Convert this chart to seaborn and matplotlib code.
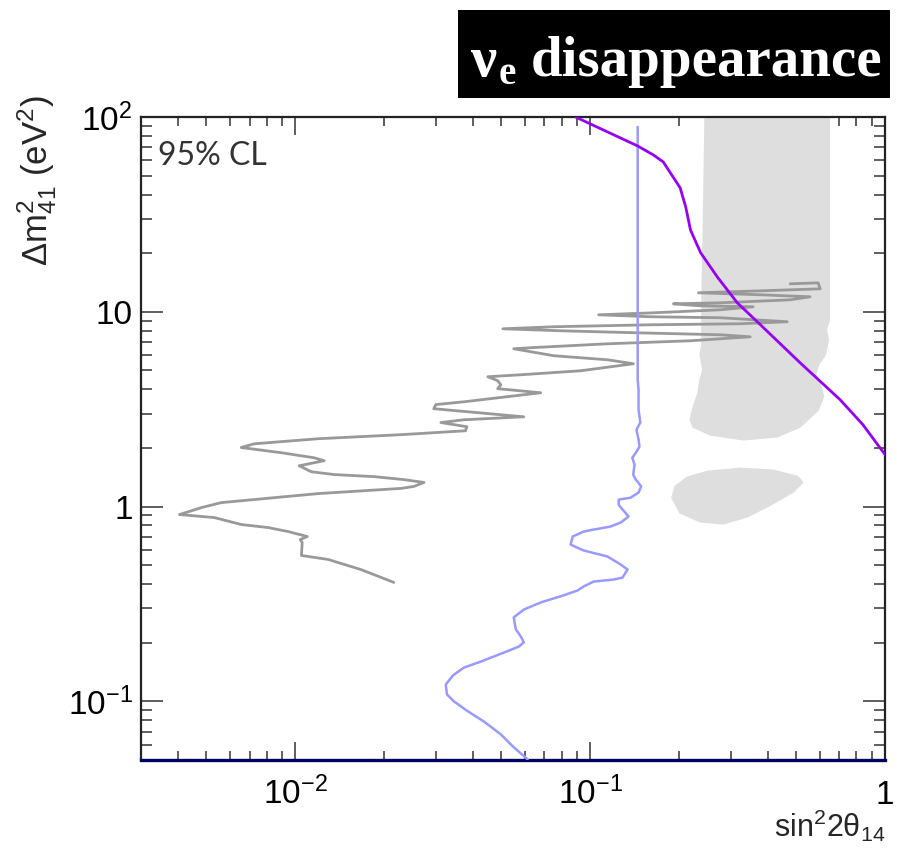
import numpy as np
import matplotlib
matplotlib.use("Agg")
import matplotlib.pyplot as plt
import seaborn as sns
from matplotlib.patches import Rectangle
from matplotlib.ticker import LogLocator, NullFormatter

# ---------------- data ----------------
purple_x = [0.0893, 0.1004, 0.145, 0.164, 0.177, 0.202, 0.211, 0.219, 0.237,
            0.270, 0.3156, 0.378, 0.515, 0.704, 0.842, 1.0]
purple_y = [100, 92, 71, 63.8, 58.8, 43.3, 34.5, 26.3, 20.1,
            15.1, 11.12, 8.58, 5.48, 3.54, 2.63, 1.85]

blue_x = [0.145, 0.145, 0.146, 0.146, 0.148, 0.1436, 0.146, 0.147, 0.1436, 0.139,
          0.1415, 0.140, 0.1427, 0.149, 0.146, 0.137, 0.125, 0.125, 0.135, 0.127,
          0.117, 0.1028, 0.0951, 0.0873, 0.0859, 0.0951, 0.1146, 0.127, 0.134, 0.1288,
          0.120, 0.1028, 0.0951, 0.0907, 0.0813, 0.0680, 0.0596, 0.0551, 0.0560, 0.0582,
          0.0596, 0.0573, 0.0510, 0.0426, 0.0373, 0.0343, 0.0324, 0.0327, 0.0345, 0.0385,
          0.0436, 0.0498, 0.0551, 0.0614]
blue_y = [88.9, 4.48, 3.98, 3.14, 2.70, 2.48, 2.21, 2.03, 1.91, 1.78,
          1.64, 1.46, 1.38, 1.27, 1.18, 1.11, 1.086, 1.02, 0.889, 0.828,
          0.789, 0.762, 0.744, 0.702, 0.638, 0.595, 0.554, 0.504, 0.475, 0.432,
          0.422, 0.412, 0.389, 0.371, 0.350, 0.322, 0.296, 0.270, 0.234, 0.2155,
          0.201, 0.191, 0.178, 0.160, 0.149, 0.136, 0.122, 0.1086, 0.100, 0.0889,
          0.0789, 0.0677, 0.0581, 0.0504]

gray_x = [0.477, 0.593, 0.603, 0.378, 0.233, 0.378, 0.557, 0.477, 0.2765, 0.1917,
          0.2366, 0.357, 0.2765, 0.164, 0.1069, 0.160, 0.2765, 0.466, 0.323, 0.164,
          0.0752, 0.0506, 0.0795, 0.145, 0.2765, 0.349, 0.219, 0.1146, 0.0629, 0.0551,
          0.0752, 0.1146, 0.1403, 0.0929, 0.0582, 0.045, 0.0486, 0.0498, 0.0486, 0.0680,
          0.0373, 0.030, 0.0295, 0.0596, 0.0373, 0.0312, 0.0382, 0.0378, 0.0229, 0.01197,
          0.00726, 0.00656, 0.00897, 0.0116, 0.01254, 0.01032, 0.01133, 0.01355, 0.0185, 0.0234,
          0.02733, 0.0253, 0.0229, 0.01197, 0.00562, 0.00481, 0.00405, 0.00532, 0.00656, 0.0081,
          0.00947, 0.01099, 0.0104, 0.01056, 0.0105, 0.01294, 0.0167, 0.0216]
gray_y = [13.92, 14.08, 13.12, 12.81, 12.52, 12.23, 11.94, 11.52, 11.12, 10.99,
          10.73, 10.61, 10.24, 9.88, 9.65, 9.43, 9.32, 8.89, 8.68, 8.58,
          8.38, 8.18, 7.99, 7.80, 7.62, 7.44, 7.10, 6.85, 6.54, 6.46,
          5.95, 5.67, 5.41, 4.98, 4.75, 4.64, 4.43, 4.22, 4.03, 3.84,
          3.45, 3.34, 3.18, 2.89, 2.79, 2.70, 2.57, 2.45, 2.34, 2.23,
          2.10, 2.01, 1.89, 1.78, 1.72, 1.62, 1.51, 1.46, 1.425, 1.375,
          1.33, 1.27, 1.24, 1.166, 1.048, 0.988, 0.910, 0.878, 0.809, 0.780,
          0.744, 0.702, 0.677, 0.654, 0.561, 0.535, 0.475, 0.408]

band_x = [0.246, 0.646, 0.646, 0.631, 0.641, 0.626, 0.593, 0.580, 0.603, 0.617,
          0.593, 0.515, 0.431, 0.331, 0.256, 0.224, 0.219, 0.224, 0.233, 0.2366,
          0.242, 0.2366, 0.240, 0.240, 0.242]
band_y = [100, 100, 9.10, 8.09, 7.18, 6.02, 5.35, 4.75, 4.22, 3.67,
          3.14, 2.57, 2.29, 2.21, 2.34, 2.57, 2.79, 3.22, 3.84, 4.48,
          5.04, 6.02, 6.77, 11.5, 20.8]

island_x = [0.1946, 0.190, 0.202, 0.2366, 0.283, 0.341, 0.408, 0.489, 0.524, 0.504,
            0.418, 0.323, 0.250, 0.214]
island_y = [1.266, 1.11, 0.932, 0.838, 0.818, 0.889, 1.02, 1.194, 1.33, 1.425,
            1.53, 1.567, 1.51, 1.41]

x_ticks = [0.01, 0.1, 1]
x_tick_labels = [r'$10^{-2}$', r'$10^{-1}$', '1']
y_ticks = [0.1, 1, 10, 100]
y_tick_labels = [r'$10^{-1}$', '1', '10', r'$10^{2}$']

# ---------------- style ----------------
sns.set_theme(style='white')
plt.rcParams['font.family'] = ['Liberation Sans', 'DejaVu Sans']
plt.rcParams['mathtext.fontset'] = 'custom'
plt.rcParams['mathtext.rm'] = 'Liberation Sans'
plt.rcParams['mathtext.it'] = 'Liberation Sans:italic'
plt.rcParams['mathtext.bf'] = 'Liberation Sans:bold'

W, H = 897, 851
fig = plt.figure(figsize=(W / 100, H / 100), dpi=100)
ax = fig.add_axes([141 / W, 1 - 760 / H, (885 - 141) / W, (760 - 117) / H])
ax.set_xscale('log')
ax.set_yscale('log')

# shaded allowed regions
ax.fill(band_x, band_y, color='#dedede', lw=1.5, ec='#dedede', joinstyle='round', zorder=1)
ax.fill(island_x, island_y, color='#dedede', lw=1.5, ec='#dedede', joinstyle='round', zorder=1)

sns.lineplot(x=gray_x, y=gray_y, sort=False, estimator=None, color='#999999',
             lw=2.0, ax=ax, zorder=3)
sns.lineplot(x=blue_x, y=blue_y, sort=False, estimator=None, color='#9999ff',
             lw=1.8, ax=ax, zorder=4)
sns.lineplot(x=purple_x, y=purple_y, sort=False, estimator=None, color='#9500f2',
             lw=2.0, ax=ax, zorder=5)

ax.set_xlim(0.003, 1)
ax.set_ylim(0.05, 100)

ax.set_xticks(x_ticks, labels=x_tick_labels)
ax.set_yticks(y_ticks, labels=y_tick_labels)
ax.xaxis.set_minor_locator(LogLocator(base=10, subs=np.arange(2, 10)))
ax.yaxis.set_minor_locator(LogLocator(base=10, subs=np.arange(2, 10)))
ax.xaxis.set_minor_formatter(NullFormatter())
ax.yaxis.set_minor_formatter(NullFormatter())

ax.tick_params(axis='both', which='both', direction='in', top=True, right=True,
               bottom=True, left=True,
               color='#333333', width=1.1, labelsize=24, labelcolor='black')
ax.tick_params(axis='x', which='major', length=13, pad=32)
ax.tick_params(axis='x', which='minor', length=6.5)
ax.tick_params(axis='y', which='major', length=16, pad=6)
ax.tick_params(axis='y', which='minor', length=8)
for lab in ax.get_xticklabels():
    lab.set_verticalalignment('baseline')

for s in ax.spines.values():
    s.set_color('#222222')
    s.set_linewidth(1.6)
ax.spines['bottom'].set_color('#000060')
ax.spines['bottom'].set_linewidth(2.4)
ax.set_xlabel('')
ax.set_ylabel('')

# 95% CL
fig.text(158 / W, 1 - 165 / H, '95% CL', fontsize=23, family=['Lato', 'DejaVu Sans'],
         fontweight='normal', color='#333333', ha='left', va='baseline')

# axis titles
fig.text(37 / W, 1 - 95 / H, r'$\Delta$m$^{2}_{41}$ (eV$^{2}$)', rotation=90,
         ha='center', va='top', fontsize=25)
fig.text(885 / W, 1 - 837 / H, r'sin$^{2}$2θ$_{14}$', ha='right', va='baseline', fontsize=22)

# title box
fig.add_artist(Rectangle((458 / W, 1 - 98 / H), (890 - 458) / W, 88 / H,
                         transform=fig.transFigure, facecolor='black', edgecolor='none'))
serif = ['Liberation Serif', 'DejaVu Serif']
fig.text(470 / W, 1 - 76 / H, 'ν', color='white', fontsize=42, family=serif,
         fontweight='bold', ha='left', va='baseline')
fig.text(499 / W, 1 - 84 / H, 'e', color='white', fontsize=28, family=serif,
         fontweight='bold', ha='left', va='baseline')
fig.text(882 / W, 1 - 76 / H, 'disappearance', color='white', fontsize=41, family=serif,
         fontweight='bold', ha='right', va='baseline')

fig.savefig('out.png', dpi=100)
